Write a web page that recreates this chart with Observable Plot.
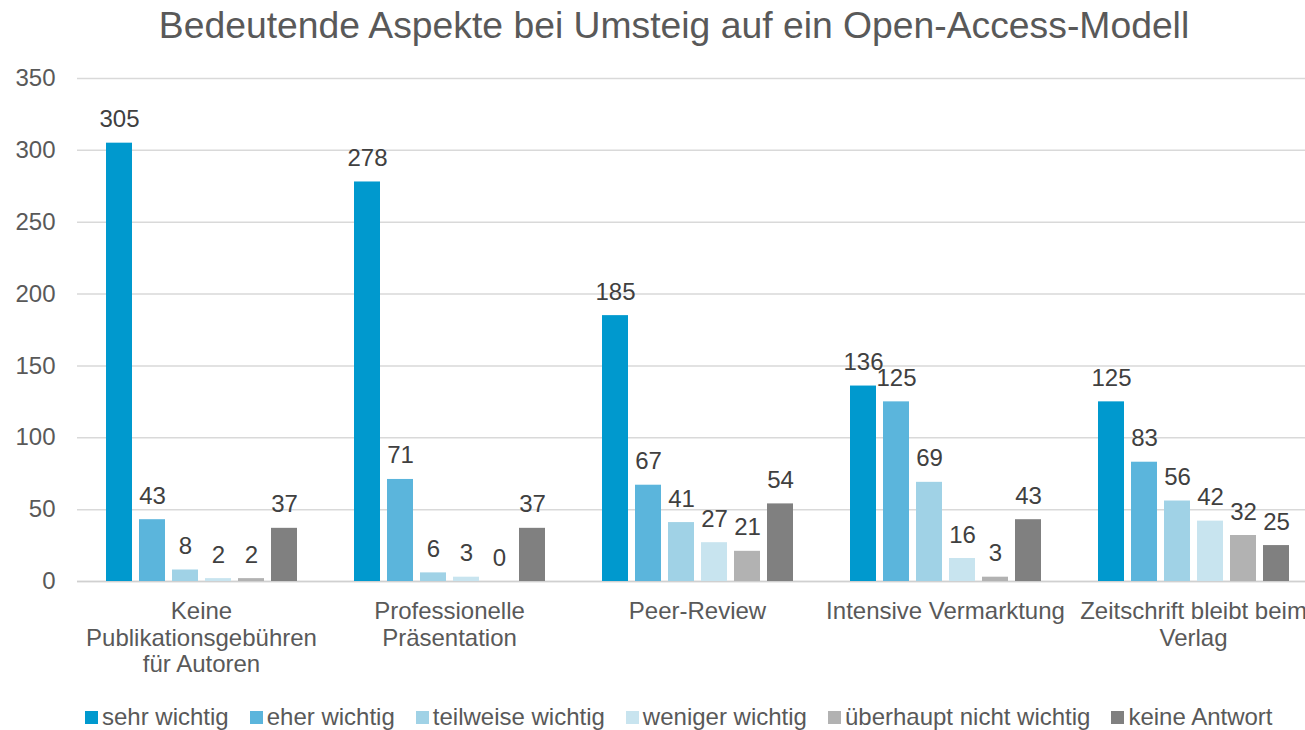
<!DOCTYPE html>
<html>
<head>
<meta charset="utf-8">
<script src="https://cdn.jsdelivr.net/npm/d3@7"></script>
<script src="https://cdn.jsdelivr.net/npm/@observablehq/plot@0.6"></script>
<style>
  html, body { margin: 0; padding: 0; background: #fff; }
  body { width: 1305px; height: 730px; overflow: hidden; position: relative; font-family: "Liberation Sans", Arial, sans-serif; }
  #title { position: absolute; left: 0; top: 0; width: 1348px; height: 50px; line-height: 50px; text-align: center; font-size: 37.3px; color: #595959; }
  #chart { position: absolute; left: 0; top: 50px; }
  #legend { position: absolute; left: 85px; top: 703px; height: 28px; display: flex; align-items: center; gap: 21px; font-size: 24px; color: #595959; white-space: nowrap; }
  .item { display: flex; align-items: center; }
  .sw { width: 13px; height: 13px; margin-right: 4px; }
</style>
</head>
<body>
<div id="title">Bedeutende Aspekte bei Umsteig auf ein Open-Access-Modell</div>
<div id="chart"></div>
<div id="legend"></div>
<script>
const groups = ["Keine Publikationsgebühren für Autoren", "Professionelle Präsentation", "Peer-Review", "Intensive Vermarktung", "Zeitschrift bleibt beim Verlag"];
const groupLabels = ["Keine\nPublikationsgebühren\nfür Autoren", "Professionelle\nPräsentation", "Peer-Review", "Intensive Vermarktung", "Zeitschrift bleibt beim\nVerlag"];
const series = ["sehr wichtig", "eher wichtig", "teilweise wichtig", "weniger wichtig", "überhaupt nicht wichtig", "keine Antwort"];
const colors = ["#0099CE", "#5BB5DC", "#A0D2E6", "#C8E4EF", "#B2B2B2", "#808080"];
const sehrWichtig = [305, 278, 185, 136, 125];
const eherWichtig = [43, 71, 67, 125, 83];
const teilweiseWichtig = [8, 6, 41, 69, 56];
const wenigerWichtig = [2, 3, 27, 16, 42];
const ueberhauptNicht = [2, 0, 21, 3, 32];
const keineAntwort = [37, 37, 54, 43, 25];
const yTicks = [0, 50, 100, 150, 200, 250, 300, 350];

const seriesValues = [sehrWichtig, eherWichtig, teilweiseWichtig, wenigerWichtig, ueberhauptNicht, keineAntwort];
const data = groups.flatMap((g, i) => series.map((s, j) => ({group: g, series: s, value: seriesValues[j][i]})));

const chart = Plot.plot({
  width: 1305,
  height: 645,
  marginTop: 28,
  marginBottom: 114,
  marginLeft: 76,
  marginRight: 0,
  style: {fontFamily: "'Liberation Sans', Arial, sans-serif", fontSize: "24px", color: "#595959", background: "white", overflow: "visible"},
  fx: {domain: groups, range: [75.6, 1319], padding: 0, axis: null},
  x: {domain: series, paddingInner: 0.22, paddingOuter: 0.78, axis: null},
  y: {domain: [0, 350], axis: null},
  color: {domain: series, range: colors},
  marks: [
    Plot.gridY(yTicks, {stroke: "#d9d9d9", strokeOpacity: 1, strokeWidth: 1.5}),
    Plot.axisY(yTicks, {tickSize: 0, tickPadding: 22, label: null, fontSize: 24, fill: "#595959"}),
    Plot.ruleY([0], {stroke: "#d0d0d0", strokeWidth: 1.5}),
    Plot.barY(data, {fx: "group", x: "series", y: "value", fill: "series"}),
    Plot.text(data, {fx: "group", x: "series", y: "value", text: d => String(d.value), lineAnchor: "bottom", dy: -16, fill: "#404040", fontSize: 24}),
    Plot.text(groups, {fx: d => d, text: (d, i) => groupLabels[i], frameAnchor: "bottom", lineAnchor: "top", dy: 19, lineHeight: 1.1, fill: "#595959", fontSize: 24})
  ]
});
document.getElementById("chart").appendChild(chart);

const legend = document.getElementById("legend");
series.forEach((s, i) => {
  const item = document.createElement("div");
  item.className = "item";
  const sw = document.createElement("span");
  sw.className = "sw";
  sw.style.background = colors[i];
  const label = document.createElement("span");
  label.textContent = s;
  item.appendChild(sw);
  item.appendChild(label);
  legend.appendChild(item);
});
</script>
</body>
</html>
